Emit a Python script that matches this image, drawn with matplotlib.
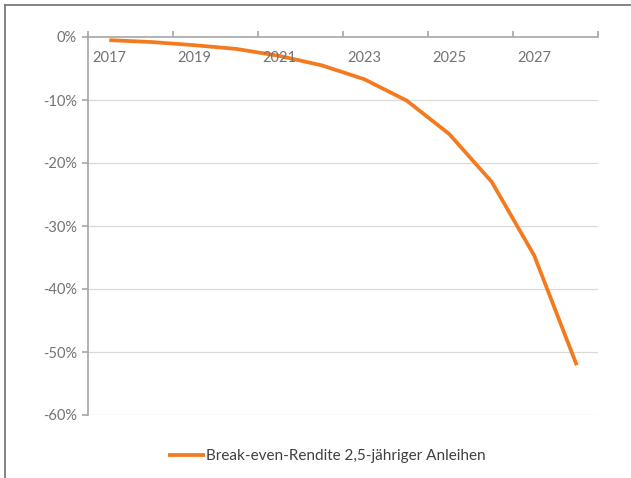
import matplotlib
matplotlib.use("Agg")
import matplotlib.pyplot as plt
from matplotlib.lines import Line2D
from matplotlib.ticker import FuncFormatter

plt.rcParams['font.family'] = ['Lato', 'DejaVu Sans']

years = [2017, 2018, 2019, 2020, 2021, 2022, 2023, 2024, 2025, 2026, 2027, 2028]
breakeven_yield = [-0.5, -0.8, -1.3, -1.9, -3.0, -4.5, -6.7, -10.1, -15.4, -23.0, -34.7, -52.1]
y_ticks = [0, -10, -20, -30, -40, -50, -60]
series_label = "Break-even-Rendite 2,5-jähriger Anleihen"

orange = '#F47A1F'
axis_gray = '#A6A6A6'
grid_gray = '#D9D9D9'
text_gray = '#737373'

fig = plt.figure(figsize=(6.31, 4.78), dpi=100)
ax = fig.add_axes([88 / 631, 1 - 415 / 478, 510 / 631, 378 / 478])

x = list(range(len(years)))
line, = ax.plot(x, breakeven_yield, color=orange, lw=2.7, solid_capstyle='butt',
                solid_joinstyle='miter', zorder=3)

ax.set_xlim(-0.5, len(years) - 0.5)
ax.set_ylim(min(y_ticks), max(y_ticks))

# value axis
ax.set_yticks(y_ticks)
ax.yaxis.set_major_formatter(FuncFormatter(lambda v, _: f"{v:.0f}%"))
ax.tick_params(axis='y', direction='out', length=4, width=1.2, color=axis_gray,
               labelcolor=text_gray, labelsize=10.5, pad=4)
for t in y_ticks[1:]:
    ax.axhline(t, color=grid_gray, lw=0.9, zorder=1)

# category axis along the zero line, ticks between every second category
ax.xaxis.tick_top()
ax.set_xticks([i - 0.5 for i in range(0, len(years) + 1, 2)])
ax.tick_params(axis='x', direction='out', length=4, width=1.2, color=axis_gray,
               labeltop=False, labelbottom=False)
for i in range(0, len(years), 2):
    ax.annotate(str(years[i]), xy=(i, 1), xycoords=('data', 'axes fraction'),
                xytext=(0, -21), textcoords='offset pixels', ha='center', va='center',
                color=text_gray, fontsize=10.5)

for side in ('right', 'bottom'):
    ax.spines[side].set_visible(False)
for side in ('left', 'top'):
    ax.spines[side].set_color(axis_gray)
    ax.spines[side].set_linewidth(1.2)

leg = fig.legend([line], [series_label], loc='center', bbox_to_anchor=(327 / 631, 1 - 456 / 478),
                 frameon=False, fontsize=11, handlelength=2.4, handletextpad=0.1,
                 labelcolor='#404040')

# chart area frame (left and top edges)
fig.add_artist(Line2D([5 / 631, 5 / 631], [0, 1 - 5 / 478], transform=fig.transFigure,
                      color='#707070', lw=1.2))
fig.add_artist(Line2D([5 / 631, 1], [1 - 5 / 478, 1 - 5 / 478], transform=fig.transFigure,
                      color='#707070', lw=1.2))

fig.savefig('out.png', dpi=100, facecolor='white')
